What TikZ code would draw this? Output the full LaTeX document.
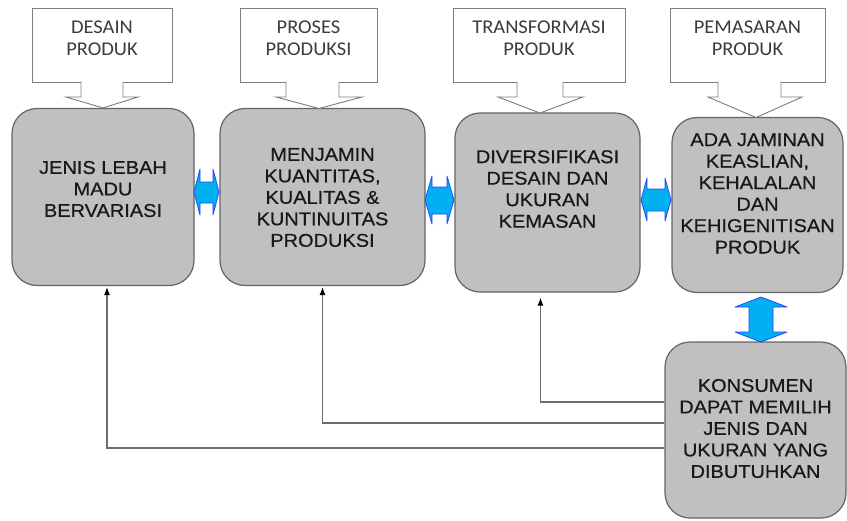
\documentclass[tikz,border=0pt]{standalone}
\usepackage{fontspec}
\setmainfont{Liberation Sans}
\newfontfamily\calloutfont[FakeStretch = 1.05]{Carlito}
\newfontfamily\stagefont[FakeStretch = 1.08, FakeBold = 0.6]{Liberation Sans}
\usepackage{tikz}
\usetikzlibrary{positioning, arrows.meta}
\definecolor{stageFill}{RGB}{192,192,192}
\definecolor{stageLine}{RGB}{100,100,100}
\definecolor{calloutLine}{RGB}{125,125,125}
\definecolor{calloutText}{RGB}{60,60,60}
\definecolor{linkFill}{RGB}{0,176,240}
\definecolor{linkLine}{RGB}{40,70,255}
\definecolor{feedLine}{RGB}{110,110,110}

\begin{document}
\begin{tikzpicture}[
		x = 1pt,
		y = -1pt,
		stage/.style = {
			draw = stageLine,
			line width = 1.2pt,
			fill = stageFill,
			rounded corners = 25pt,
			inner sep = 0pt,
		},
		stageText/.style = {
			font = \stagefont\fontsize{18.5}{21.5}\selectfont,
			text = black!90,
			align = center,
			inner sep = 0pt,
		},
		callout/.style = {
			draw = calloutLine,
			line width = 0.9pt,
			fill = white,
			minimum height = 74pt,
			inner sep = 0pt,
		},
		calloutArrow/.style = {
			draw = calloutLine,
			line width = 0.9pt,
			fill = white,
		},
		calloutTxt/.style = {
			font = \calloutfont\fontsize{19.5}{22}\selectfont,
			text = calloutText,
			align = center,
			inner sep = 0pt,
		},
		link/.style = {
			draw = linkLine,
			fill = linkFill,
			line width = 0.8pt,
			line join = round,
		},
		feedback/.style = {
			draw = feedLine,
			line width = 1.1pt,
			-{Latex[length = 8pt, width = 6pt, color = black]},
		}
	]
	\useasboundingbox (0,0) rectangle (847,520);

	\node [stage, minimum width = 182pt, minimum height = 177pt] (jenis) at (103,197) {};
	\node [stage, minimum width = 205pt, minimum height = 177pt] (menjamin) at (322.5,197) {};
	\node [stage, minimum width = 185pt, minimum height = 179pt] (diversifikasi) at (547.5,202.5) {};
	\node [stage, minimum width = 171pt, minimum height = 175pt] (jaminan) at (757.5,205) {};
	\node [stage, minimum width = 181pt, minimum height = 176pt] (konsumen) at (755.5,430) {};

	\node [stageText] (jenisTxt) at (103,189) {JENIS LEBAH\\MADU\\BERVARIASI};
	\node [stageText] (menjaminTxt) at (322.5,197.5) {MENJAMIN\\KUANTITAS,\\KUALITAS \&\\KUNTINUITAS\\PRODUKSI};
	\node [stageText] (diversifikasiTxt) at (547.5,189) {DIVERSIFIKASI\\DESAIN DAN\\UKURAN\\KEMASAN};
	\node [stageText] (jaminanTxt) at (757.5,193.5) {ADA JAMINAN\\KEASLIAN,\\KEHALALAN\\DAN\\KEHIGENITISAN\\PRODUK};
	\node [stageText] (konsumenTxt) at (755.5,428.5) {KONSUMEN\\DAPAT MEMILIH\\JENIS DAN\\UKURAN YANG\\DIBUTUHKAN};

	\node [callout, minimum width = 140pt] (desain) at (102,45) {};
	\node [callout, minimum width = 137pt] (proses) at (308.5,45) {};
	\node [callout, minimum width = 172pt] (transformasi) at (539,45) {};
	\node [callout, minimum width = 155pt] (pemasaran) at (747.5,45) {};

	\path [calloutArrow] (81,81.5) -- (81,97) -- (66,97) -- (jenis.north) -- (138,97) -- (123,97) -- (123,81.5);
	\path [calloutArrow] (286,81.5) -- (286,97) -- (276,97) -- (319,108.5) -- (362,97) -- (339,97) -- (339,81.5);
	\path [calloutArrow] (517,81.5) -- (517,97) -- (498,97) -- (540,113) -- (583,97) -- (563,97) -- (563,81.5);
	\path [calloutArrow] (718,81.5) -- (718,97) -- (708,97) -- (756,117.5) -- (802,97) -- (781,97) -- (781,81.5);

	\node [calloutTxt] (desainTxt) at (102,38.5) {DESAIN\\PRODUK};
	\node [calloutTxt] (prosesTxt) at (308.5,38.5) {PROSES\\PRODUKSI};
	\node [calloutTxt] (transformasiTxt) at (539,38.5) {TRANSFORMASI\\PRODUK};
	\node [calloutTxt] (pemasaranTxt) at (747.5,38.5) {PEMASARAN\\PRODUK};

	\path [link] (194,192) -- (200,169) -- (200,182) -- (213,182) -- (213,169) -- (219,192)
		-- (213,215) -- (213,203) -- (200,203) -- (200,215) -- cycle;
	\path [link] (425,200) -- (432,176) -- (432,187) -- (447,187) -- (447,176) -- (454,200)
		-- (447,224) -- (447,214) -- (432,214) -- (432,224) -- cycle;
	\path [link] (641,200) -- (647,178) -- (647,189) -- (665,189) -- (665,178) -- (671,200)
		-- (665,221) -- (665,211) -- (647,211) -- (647,221) -- cycle;
	\path [link] (761,297) -- (787,307) -- (773,307) -- (773,332) -- (787,332) -- (761,342)
		-- (735,332) -- (749,332) -- (749,307) -- (735,307) -- cycle;

	\draw [feedback, shorten > = 5pt] (konsumen.west |- 0,402) -| ([xshift = -7pt]diversifikasi.south);
	\draw [feedback, shorten > = 1pt] (konsumen.west |- 0,423) -| (menjamin.south);
	\draw [feedback, shorten > = 1pt] (konsumen.west |- 0,448) -| ([xshift = 4pt]jenis.south);
\end{tikzpicture}
\end{document}
